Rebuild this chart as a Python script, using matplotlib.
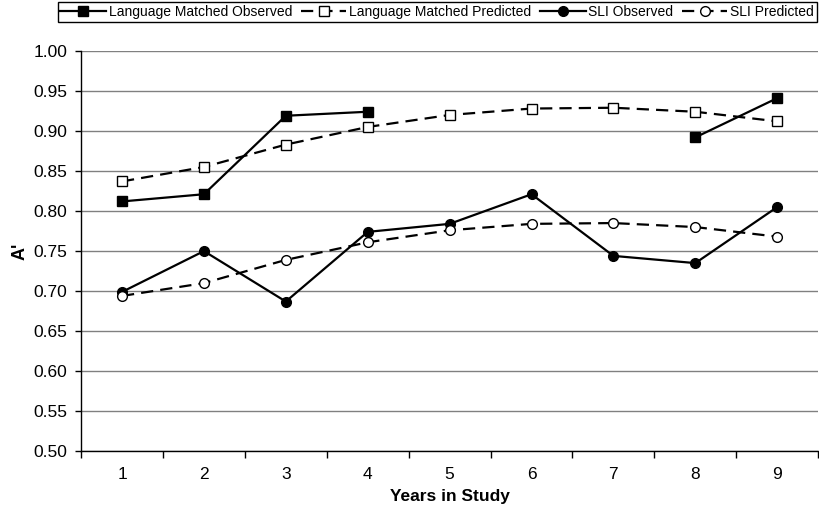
import numpy as np
import matplotlib
matplotlib.use('Agg')
import matplotlib.pyplot as plt
from matplotlib.ticker import FixedLocator, NullFormatter

plt.rcParams['font.family'] = ['Liberation Sans', 'DejaVu Sans']

years = [1, 2, 3, 4, 5, 6, 7, 8, 9]
lm_observed = [0.812, 0.821, 0.919, 0.924, np.nan, np.nan, np.nan, 0.892, 0.941]
lm_predicted = [0.837, 0.855, 0.883, 0.905, 0.920, 0.928, 0.929, 0.924, 0.912]
sli_observed = [0.699, 0.750, 0.687, 0.774, 0.784, 0.821, 0.744, 0.735, 0.805]
sli_predicted = [0.694, 0.710, 0.739, 0.761, 0.776, 0.784, 0.785, 0.780, 0.768]
y_ticks = [0.50, 0.55, 0.60, 0.65, 0.70, 0.75, 0.80, 0.85, 0.90, 0.95, 1.00]

fig = plt.figure(figsize=(8.19, 5.14), dpi=100)
ax = fig.add_axes([0.099, 0.122, 0.9, 0.779])

dash = (5.5, 3.2)
ax.plot(years, lm_observed, '-', color='black', lw=1.6, marker='s',
        ms=7, mfc='black', mec='black', label='Language Matched Observed',
        zorder=3)
ax.plot(years, lm_predicted, '--', color='black', lw=1.6, marker='s',
        ms=7, mfc='white', mec='black', mew=1.0, dashes=dash,
        label='Language Matched Predicted', zorder=3)
ax.plot(years, sli_observed, '-', color='black', lw=1.6, marker='o',
        ms=7, mfc='black', mec='black', label='SLI Observed', zorder=3)
ax.plot(years, sli_predicted, '--', color='black', lw=1.6, marker='o',
        ms=7, mfc='white', mec='black', mew=1.0, dashes=dash,
        label='SLI Predicted', zorder=3)

ax.set_xlim(0.5, 9.5)
ax.set_ylim(0.5, 1.0)
ax.set_yticks(y_ticks)
ax.set_yticklabels(['%.2f' % v for v in y_ticks], fontsize=12.5)
ax.yaxis.grid(True, color='#808080', lw=1.0)
ax.set_axisbelow(True)

# category axis: tick marks between categories, labels at centres
ax.xaxis.set_major_locator(FixedLocator(np.arange(0.5, 10.0, 1.0)))
ax.xaxis.set_major_formatter(NullFormatter())
ax.xaxis.set_minor_locator(FixedLocator(years))
ax.set_xticklabels([str(y) for y in years], minor=True, fontsize=12.5)
ax.tick_params(axis='x', which='major', direction='out', length=5, width=1)
ax.tick_params(axis='x', which='minor', length=0, pad=11)
ax.tick_params(axis='y', direction='out', length=4, width=1, pad=6)

for side in ['top', 'right']:
    ax.spines[side].set_visible(False)
for side in ['left', 'bottom']:
    ax.spines[side].set_color('black')
    ax.spines[side].set_linewidth(1.0)

ax.set_xlabel('Years in Study', fontsize=12.5, fontweight='bold', labelpad=5)
ax.set_ylabel("A'", fontsize=13, fontweight='bold', labelpad=3)

leg = fig.legend(loc='upper right', bbox_to_anchor=(0.999, 0.998), ncol=4,
                 fontsize=10, frameon=True, fancybox=False, edgecolor='black',
                 framealpha=1, handlelength=3.3, handletextpad=0.2,
                 columnspacing=0.6, borderpad=0.2, borderaxespad=0.1)
leg.get_frame().set_linewidth(1.0)

fig.savefig('out.png', dpi=100)
